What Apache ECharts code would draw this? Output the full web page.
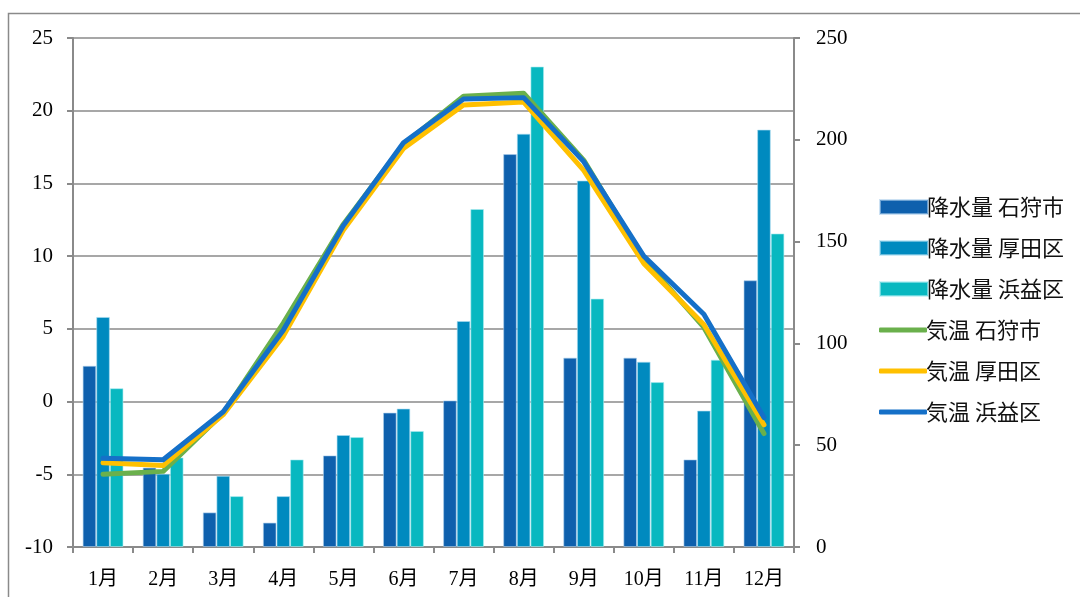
<!DOCTYPE html>
<html>
<head>
<meta charset="utf-8">
<style>
  html, body { margin: 0; padding: 0; background: #fff; }
  #chart { width: 1080px; height: 597px; }
</style>
<script src="https://cdn.jsdelivr.net/npm/echarts@6/dist/echarts.min.js"></script>
</head>
<body>
<div id="chart"></div>
<script>
// Monthly categories
const months = ['1月', '2月', '3月', '4月', '5月', '6月', '7月', '8月', '9月', '10月', '11月', '12月'];

// Precipitation (mm) — right axis
const rainIshikari = [89, 39, 17, 12, 45, 66, 72, 193, 93, 93, 43, 131];
const rainAtsuta   = [113, 36, 35, 25, 55, 68, 111, 203, 180, 91, 67, 205];
const rainHamamasu = [78, 44, 25, 43, 54, 57, 166, 236, 122, 81, 92, 154];

// Mean temperature (°C) — left axis
const tempIshikari = [-5.0, -4.8, -0.8, 5.4, 12.2, 17.7, 21.0, 21.2, 16.6, 9.8, 5.1, -2.2];
const tempAtsuta   = [-4.2, -4.4, -0.9, 4.5, 11.8, 17.4, 20.4, 20.6, 15.9, 9.5, 5.3, -1.6];
const tempHamamasu = [-3.9, -4.0, -0.7, 4.9, 12.1, 17.8, 20.8, 20.9, 16.5, 10.0, 6.0, -1.1];

const seriesNames = [
  '降水量 石狩市', '降水量 厚田区', '降水量 浜益区',
  '気温 石狩市', '気温 厚田区', '気温 浜益区'
];

const gray = '#8a8a8a';
const serif = "'Liberation Serif', 'Noto Sans CJK JP', serif";
const sans = "'Noto Sans CJK JP', 'Noto Sans', sans-serif";

const chart = echarts.init(document.getElementById('chart'), null, { renderer: 'canvas' });

function barSeries(name, data, color, edge) {
  return {
    name, type: 'bar', yAxisIndex: 1, data,
    barGap: '0%', barCategoryGap: '32%',
    itemStyle: { color, borderColor: edge, borderWidth: 1 },
    emphasis: { disabled: true }
  };
}
function lineSeries(name, data, color) {
  return {
    name, type: 'line', yAxisIndex: 0, data,
    symbol: 'none', smooth: false,
    lineStyle: { color, width: 5, cap: 'round', join: 'round' },
    itemStyle: { color },
    emphasis: { disabled: true }
  };
}

const legendText = {
  fontFamily: sans, fontSize: 22, lineHeight: 26, color: '#111',
  padding: [0, 0, 0, -6]
};

chart.setOption({
  animation: false,
  backgroundColor: '#fff',
  graphic: [{
    type: 'rect', silent: true, z: -1,
    shape: { x: 8.5, y: 13.5, width: 1100, height: 620 },
    style: { fill: 'none', stroke: gray, lineWidth: 1.5 }
  }],
  grid: { left: 73, right: 286, top: 38, bottom: 50, containLabel: false },
  legend: [
    {
      orient: 'vertical', left: 874, top: 189,
      itemWidth: 48, itemHeight: 14, itemGap: 15,
      textStyle: legendText,
      data: seriesNames.slice(0, 3).map(n => ({ name: n, icon: 'rect' }))
    },
    {
      orient: 'vertical', left: 874, top: 312,
      itemWidth: 48, itemHeight: 5, itemGap: 15,
      textStyle: legendText,
      data: seriesNames.slice(3).map(n => ({ name: n, icon: 'roundRect' }))
    }
  ],
  xAxis: {
    type: 'category', data: months, boundaryGap: true,
    axisLine: { onZero: false, lineStyle: { color: gray, width: 2 } },
    axisTick: { show: true, length: 6, lineStyle: { color: gray, width: 2 } },
    axisLabel: { fontFamily: serif, fontSize: 20, color: '#000', margin: 23 }
  },
  yAxis: [
    {
      type: 'value', min: -10, max: 25, interval: 5, position: 'left',
      axisLine: { show: true, lineStyle: { color: gray, width: 2 } },
      axisTick: { show: true, length: 6, lineStyle: { color: gray, width: 2 } },
      splitLine: { show: true, lineStyle: { color: gray, width: 1.5 } },
      axisLabel: { fontFamily: serif, fontSize: 21, color: '#000', margin: 20 }
    },
    {
      type: 'value', min: 0, max: 250, interval: 50, position: 'right',
      axisLine: { show: true, lineStyle: { color: gray, width: 2 } },
      axisTick: { show: true, length: 6, lineStyle: { color: gray, width: 2 } },
      splitLine: { show: false },
      axisLabel: { fontFamily: serif, fontSize: 21, color: '#000', margin: 22 }
    }
  ],
  series: [
    barSeries(seriesNames[0], rainIshikari, '#0e60ad', 'rgba(170,205,235,0.6)'),
    barSeries(seriesNames[1], rainAtsuta, '#008abf', 'rgba(170,220,240,0.6)'),
    barSeries(seriesNames[2], rainHamamasu, '#08b8c0', 'rgba(170,235,240,0.6)'),
    lineSeries(seriesNames[3], tempIshikari, '#6ab04c'),
    lineSeries(seriesNames[4], tempAtsuta, '#ffc000'),
    lineSeries(seriesNames[5], tempHamamasu, '#1570c8')
  ]
});
</script>
</body>
</html>
